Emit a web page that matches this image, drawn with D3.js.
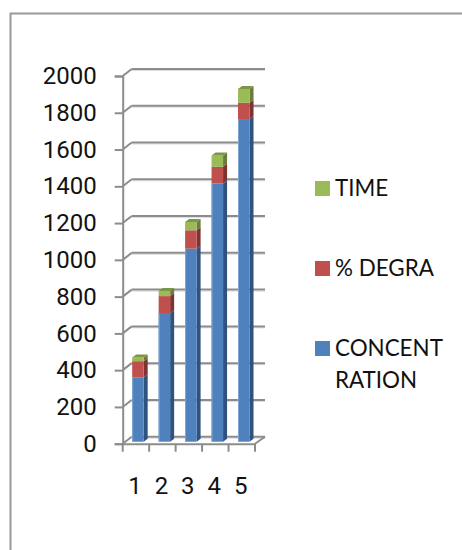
<!DOCTYPE html>
<html>
<head>
<meta charset="utf-8">
<script src="https://cdn.jsdelivr.net/npm/d3@7"></script>
<style>
  html, body { margin: 0; padding: 0; background: #fff; }
  svg { display: block; }
  text { font-family: Lato, "Liberation Sans", Arial, sans-serif; fill: #111; }
</style>
</head>
<body>
<svg id="chart" width="462" height="550"></svg>
<script>
var categories = ['1', '2', '3', '4', '5'];
var concentration = [350, 700, 1050, 1405, 1755];
var degra = [88, 92, 100, 90, 88];
var time = [20, 28, 45, 62, 76];
var yTicks = [0, 200, 400, 600, 800, 1000, 1200, 1400, 1600, 1800, 2000];
var seriesKeys = ['CONCENTRATION', 'DEGRA', 'TIME'];
var seriesColors = ['#4f81bd', '#c0504d', '#9bbb59'];
var sideColors = ['#2f5380', '#7f3230', '#677d3a'];
var topColors = ['#3e6797', '#9a403d', '#7c9647'];
var legendLabels = [['TIME'], ['% DEGRA'], ['CONCENT', 'RATION']];
var legendColors = ['#9bbb59', '#c0504d', '#4f81bd'];

var svg = d3.select('#chart');
var gridColor = '#8c8c8c';

// wall offset of the fake 3d box
var depthX = 9, depthY = 7;
var barDepthX = 4, barDepthY = 3;
var barW = 11.5;

var x = d3.scaleBand().domain(categories).range([122.7, 255]);
var y = d3.scaleLinear().domain([0, 2000]).range([443.7, 76]);

// outer frame, open on the right and the bottom
svg.append('path')
  .attr('d', 'M10.5,550V13.5H462')
  .attr('fill', 'none')
  .attr('stroke', '#9a9a9a')
  .attr('stroke-width', 2);

// back wall grid lines
var grid = svg.append('g');
yTicks.forEach(function(t) {
  grid.append('line')
    .attr('x1', x.range()[0] + depthX).attr('x2', x.range()[1] + depthX + 1)
    .attr('y1', y(t) - depthY + 1.5).attr('y2', y(t) - depthY + 1.5)
    .attr('stroke', '#dcdcdc').attr('stroke-width', 1);
  grid.append('line')
    .attr('x1', x.range()[0] + depthX).attr('x2', x.range()[1] + depthX + 1)
    .attr('y1', y(t) - depthY).attr('y2', y(t) - depthY)
    .attr('stroke', gridColor).attr('stroke-width', 2);
  grid.append('line')
    .attr('x1', x.range()[0]).attr('x2', x.range()[0] + depthX)
    .attr('y1', y(t)).attr('y2', y(t) - depthY)
    .attr('stroke', gridColor).attr('stroke-width', 2);
});

// right edge of the floor
grid.append('line')
  .attr('x1', x.range()[1]).attr('x2', x.range()[1] + depthX + 1)
  .attr('y1', y(0)).attr('y2', y(0) - depthY)
  .attr('stroke', gridColor).attr('stroke-width', 2);

// stacked bars
var stack = d3.stack().keys(seriesKeys);
var rows = categories.map(function(c, i) {
  return { cat: c, CONCENTRATION: concentration[i], DEGRA: degra[i], TIME: time[i] };
});
var layers = stack(rows);

function barLeft(d) {
  return x(d.data.cat) + (x.bandwidth() - barW) / 2 + 2;
}
function barY(v) {
  return y(v) - 2;
}

layers.forEach(function(layer, k) {
  var g = svg.append('g');
  g.selectAll('.side').data(layer).enter().append('path')
    .attr('fill', sideColors[k])
    .attr('d', function(d) {
      var r = barLeft(d) + barW;
      return 'M' + r + ',' + barY(d[0]) +
        'L' + (r + barDepthX) + ',' + (barY(d[0]) - barDepthY) +
        'L' + (r + barDepthX) + ',' + (barY(d[1]) - barDepthY) +
        'L' + r + ',' + barY(d[1]) + 'Z';
    });
  g.selectAll('.front').data(layer).enter().append('rect')
    .attr('x', barLeft)
    .attr('y', function(d) { return barY(d[1]); })
    .attr('width', barW)
    .attr('height', function(d) { return barY(d[0]) - barY(d[1]); })
    .attr('fill', seriesColors[k]);
  // only the top segment shows its lid
  if (k == layers.length - 1) {
    g.selectAll('.lid').data(layer).enter().append('path')
      .attr('fill', topColors[k])
      .attr('d', function(d) {
        var l = barLeft(d);
        return 'M' + l + ',' + barY(d[1]) +
          'L' + (l + barDepthX) + ',' + (barY(d[1]) - barDepthY) +
          'L' + (l + barW + barDepthX) + ',' + (barY(d[1]) - barDepthY) +
          'L' + (l + barW) + ',' + barY(d[1]) + 'Z';
      });
  }
});

// light left edge on the blue fronts
svg.append('g').selectAll('rect').data(layers[0]).enter().append('rect')
  .attr('x', barLeft)
  .attr('y', function(d) { return barY(d[1]); })
  .attr('width', 1)
  .attr('height', function(d) { return barY(d[0]) - barY(d[1]); })
  .attr('fill', '#7fa6d3');

// y axis
var yAxis = d3.axisLeft(y).tickValues(yTicks).tickSize(8).tickPadding(18).tickFormat(d3.format('d'));
var gy = svg.append('g')
  .attr('transform', 'translate(' + x.range()[0] + ',0)')
  .call(yAxis);
gy.selectAll('line').attr('stroke', gridColor).attr('stroke-width', 2);
gy.select('.domain').attr('stroke', gridColor).attr('stroke-width', 2).attr('fill', 'none');
gy.selectAll('text').style('font-family', 'Roboto').style('font-size', '24px').attr('fill', '#111');

// x axis
var xAxis = d3.axisBottom(x).tickValues([]).tickSize(0).tickSizeOuter(0);
var gx = svg.append('g')
  .attr('transform', 'translate(0,' + y(0) + ')')
  .call(xAxis);
gx.select('.domain').attr('stroke', gridColor).attr('stroke-width', 2);

var tickEdges = x.domain().map(function(c) { return x(c); }).concat([x.range()[1]]);
gx.selectAll('.edge').data(tickEdges).enter().append('line')
  .attr('x1', function(d) { return d; }).attr('x2', function(d) { return d; })
  .attr('y1', 0).attr('y2', 8)
  .attr('stroke', gridColor).attr('stroke-width', 2);

svg.append('g').selectAll('text').data(categories).enter().append('text')
  .attr('x', function(d) { return x(d) + x.bandwidth() / 2 - 1; })
  .attr('y', 494)
  .attr('text-anchor', 'middle')
  .style('font-family', 'Roboto')
  .style('font-size', '24px')
  .text(function(d) { return d; });

// legend
var legendY = [181, 261, 341];
legendLabels.forEach(function(lines, i) {
  svg.append('rect')
    .attr('x', 315).attr('y', legendY[i])
    .attr('width', 15).attr('height', 15)
    .attr('fill', legendColors[i]);
  lines.forEach(function(txt, j) {
    svg.append('text')
      .attr('x', 335)
      .attr('y', legendY[i] + 14.5 + j * 32)
      .style('font-size', '22.4px')
      .text(txt);
  });
});
</script>
</body>
</html>
